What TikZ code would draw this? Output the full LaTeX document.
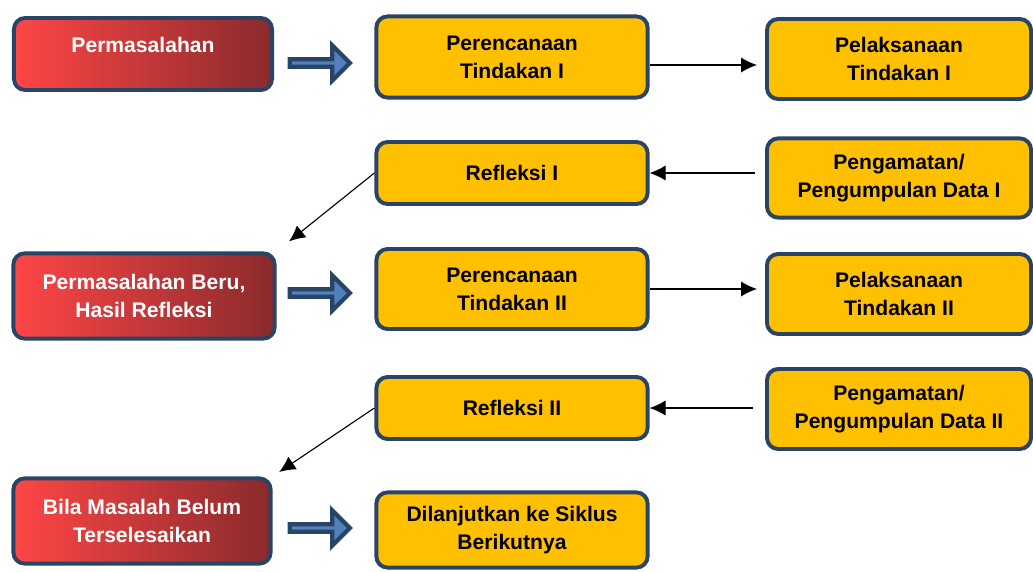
\documentclass[tikz,border=0pt]{standalone}
\usepackage{fontspec}
\setmainfont{Liberation Sans}
\usetikzlibrary{shapes.arrows,arrows.meta}
\definecolor{navy}{HTML}{2A4466}
\definecolor{gold}{HTML}{FFC000}
\definecolor{redL}{HTML}{FF4646}
\definecolor{redR}{HTML}{8A2A2C}
\definecolor{arrowblue}{HTML}{4F81BD}
\begin{document}
\begin{tikzpicture}[x=0.025cm,y=-0.025cm,
        box/.style = {rectangle,
            rounded corners = 8pt,
            draw = navy,
            line width = 2.8pt,
            align = center,
            font = \fontsize{15}{20}\selectfont\bfseries,
            inner sep = 2pt},
        redbox/.style = {box,
            left color = redL,
            right color = redR,
            text = white},
        yelbox/.style = {box,
            fill = gold,
            text = black},
        blockarrow/.style = {single arrow,
            draw = navy,
            fill = arrowblue,
            line width = 3pt,
            inner sep = 0pt,
            minimum width = 0.88cm,
            single arrow head extend = 0.2cm,
            minimum height = 1.5cm},
        link/.style = {-{Latex[length=0.4cm,width=0.38cm]},
            line width = 0.8pt}]

    \useasboundingbox (0,0) rectangle (1033,572);

    % Cycle I
    \node[redbox, minimum width = 6.45cm, minimum height = 1.8cm,
        text depth = 0.45cm] (perm1) at (143,54) {Permasalahan};
    \node[yelbox, minimum width = 6.78cm, minimum height = 2.03cm] (renc1) at (512,57) {Perencanaan\\Tindakan I};
    \node[yelbox, minimum width = 6.6cm, minimum height = 2.0cm] (pelak1) at (899,59) {Pelaksanaan\\Tindakan I};
    \node[yelbox, minimum width = 6.78cm, minimum height = 1.55cm] (ref1) at (512,173) {Refleksi I};
    \node[yelbox, minimum width = 6.6cm, minimum height = 1.98cm] (amat1) at (899,178) {Pengamatan/\\Pengumpulan Data I};

    % Cycle II
    \node[redbox, minimum width = 6.53cm, minimum height = 2.13cm] (perm2) at (144,296) {Permasalahan Beru,\\Hasil Refleksi};
    \node[yelbox, minimum width = 6.78cm, minimum height = 2.0cm] (renc2) at (512,289) {Perencanaan\\Tindakan II};
    \node[yelbox, minimum width = 6.6cm, minimum height = 2.0cm] (pelak2) at (899,294) {Pelaksanaan\\Tindakan II};
    \node[yelbox, minimum width = 6.78cm, minimum height = 1.55cm] (ref2) at (512,408) {Refleksi II};
    \node[yelbox, minimum width = 6.6cm, minimum height = 2.0cm] (amat2) at (899,409) {Pengamatan/\\Pengumpulan Data II};

    % Next cycle
    \node[redbox, minimum width = 6.43cm, minimum height = 2.13cm] (perm3) at (142,521) {Bila Masalah Belum\\Terselesaikan};
    \node[yelbox, minimum width = 6.78cm, minimum height = 1.88cm] (lanjut) at (512,530) {Dilanjutkan ke Siklus\\Berikutnya};

    % Block arrows
    \node[blockarrow] (ba1) at (318,63) {};
    \node[blockarrow] (ba2) at (318,293) {};
    \node[blockarrow] (ba3) at (318,528) {};

    % Links
    \draw[link, shorten >= 8*0.025cm] ([yshift=-0.2cm]renc1.east) -- ([yshift=-0.2cm]renc1.east -| pelak1.west);
    \draw[link, shorten >= 8*0.025cm] (renc2.east) -- (renc2.east -| pelak2.west);
    \draw[link, shorten <= 10*0.025cm] (ref1.east -| amat1.west) -- (ref1.east);
    \draw[link, shorten <= 12*0.025cm] (ref2.east -| amat2.west) -- (ref2.east);
    \draw[link, shorten >= 16*0.025cm] (ref1.west) -- (perm2.north east);
    \draw[link, shorten >= 8*0.025cm] (ref2.west) -- (perm3.north east);

\end{tikzpicture}
\end{document}
